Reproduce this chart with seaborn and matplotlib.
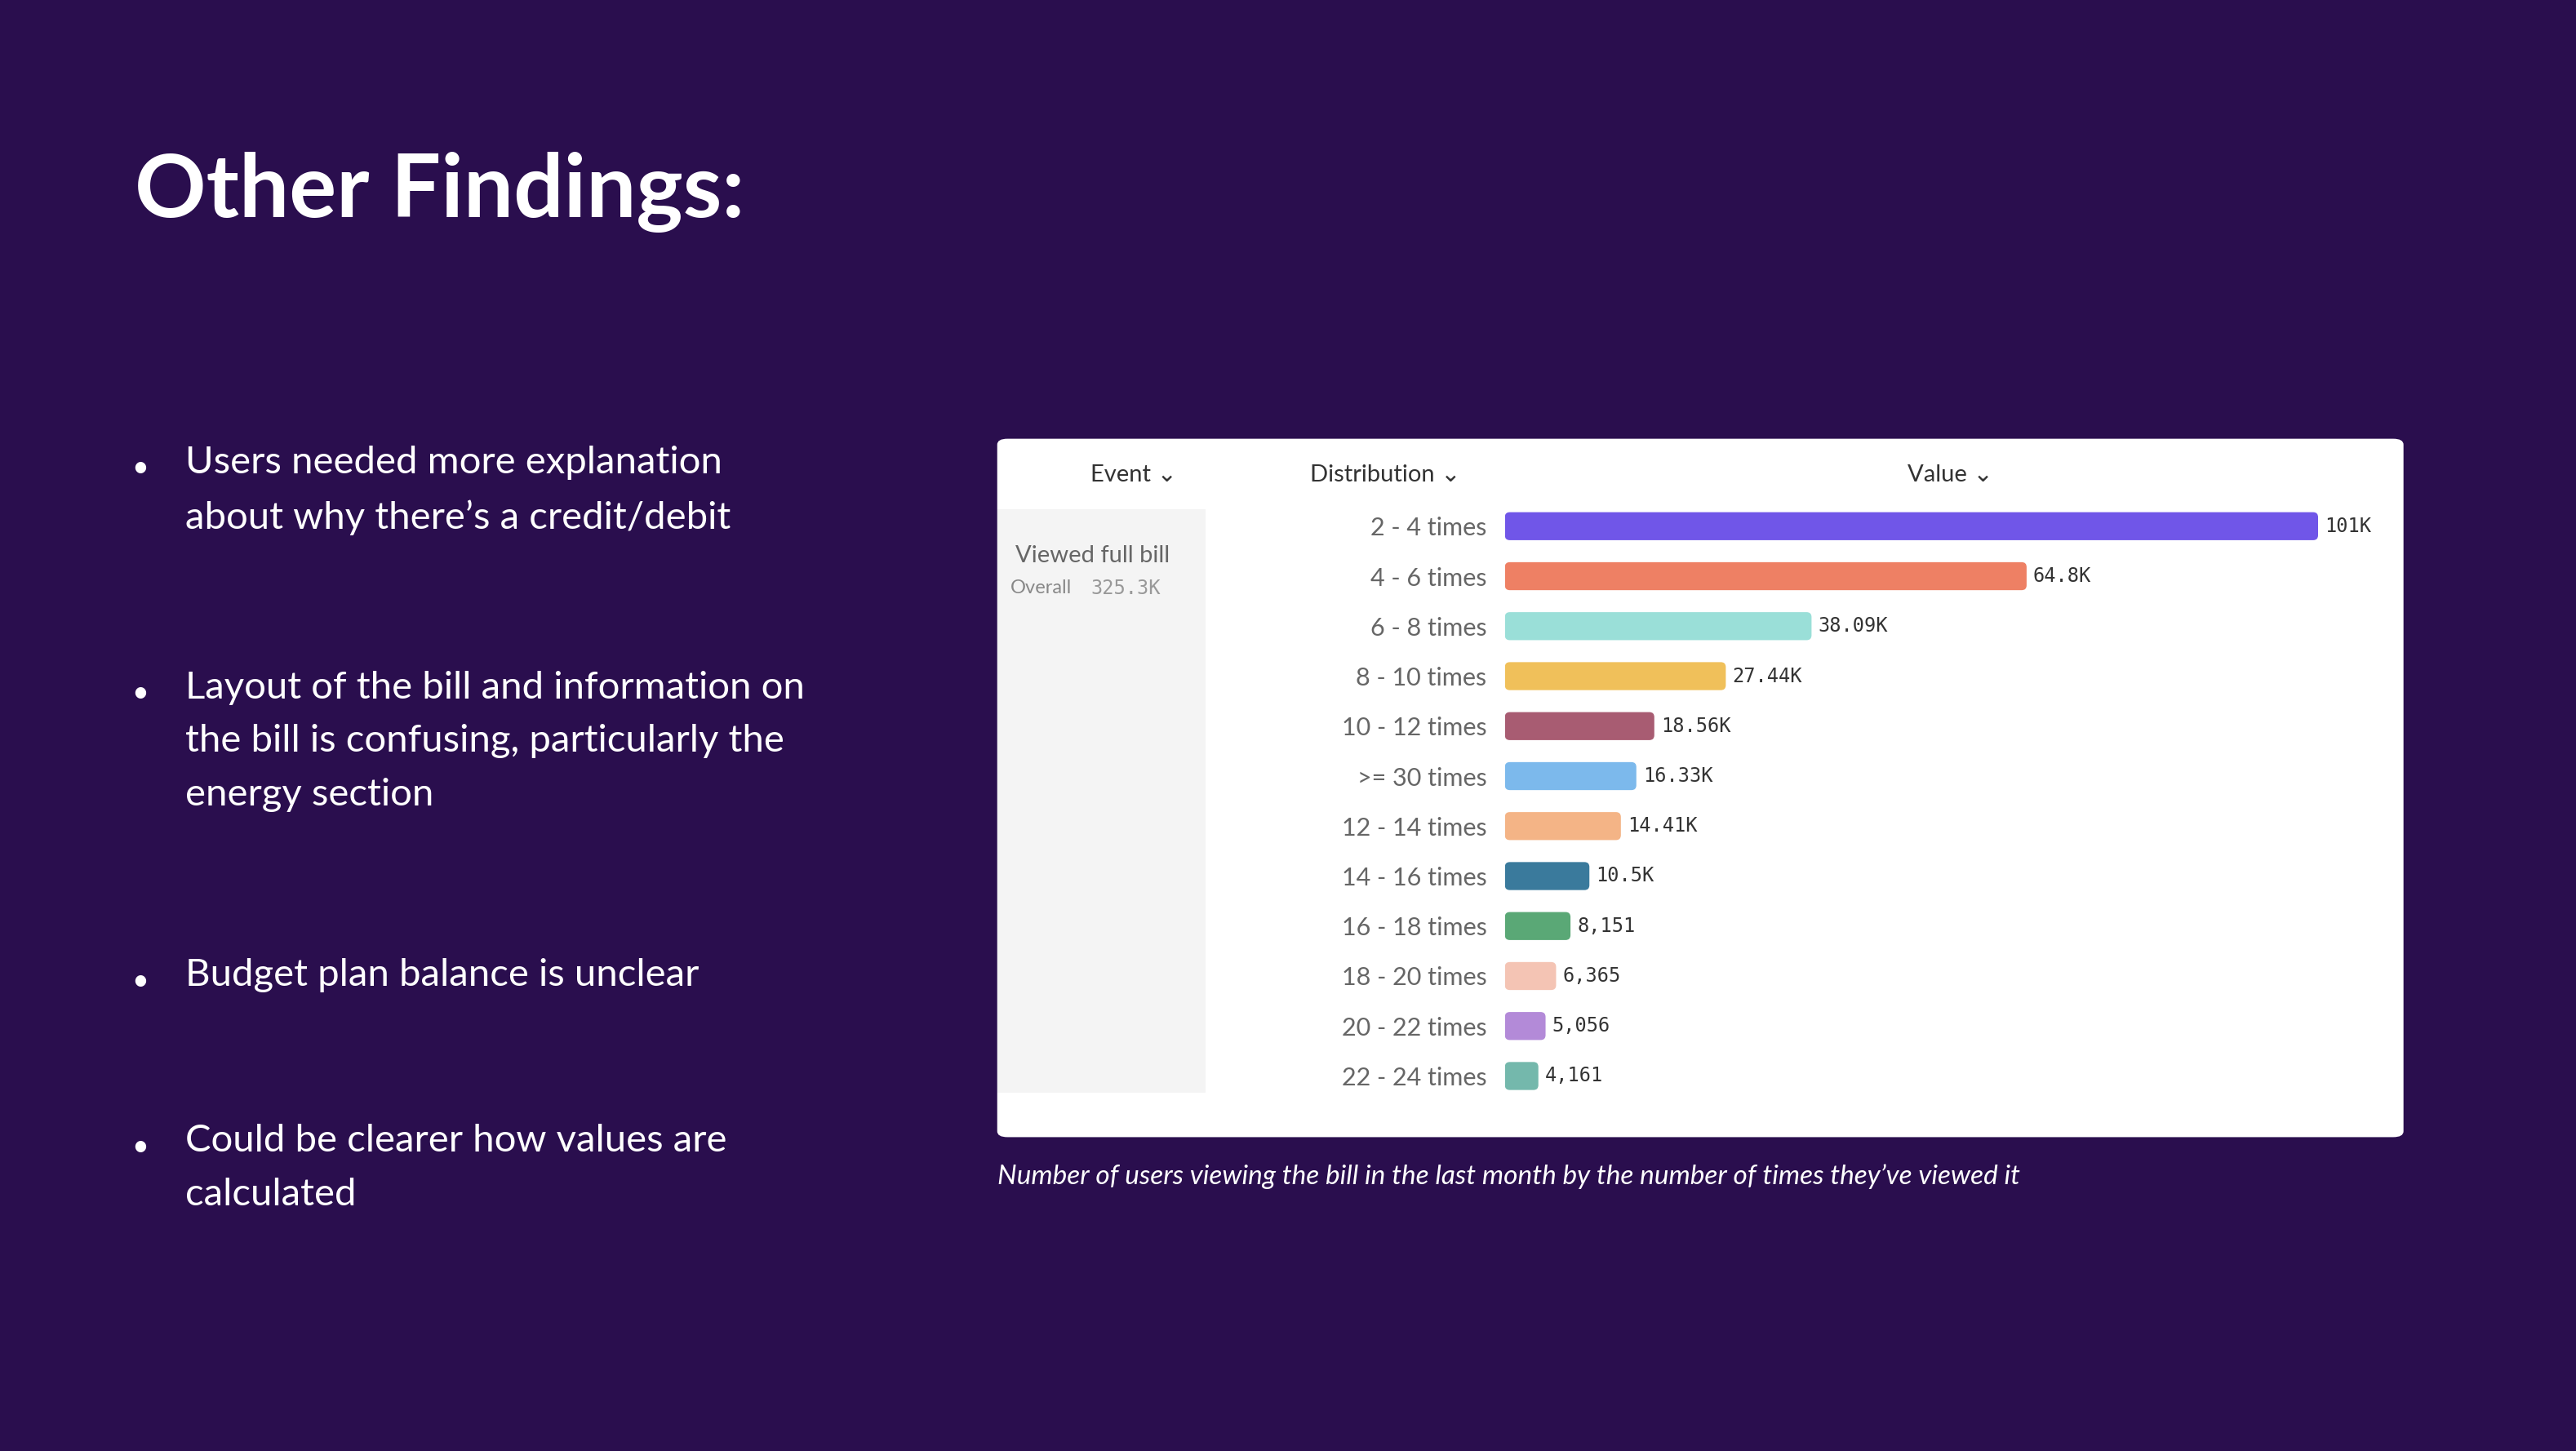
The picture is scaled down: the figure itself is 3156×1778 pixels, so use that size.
import matplotlib.pyplot as plt
import seaborn as sns
import pandas as pd
from matplotlib.patches import FancyBboxPatch, Rectangle

categories = ['2 - 4 times', '4 - 6 times', '6 - 8 times', '8 - 10 times', '10 - 12 times',
              '>= 30 times', '12 - 14 times', '14 - 16 times', '16 - 18 times',
              '18 - 20 times', '20 - 22 times', '22 - 24 times']
values = [101000, 64800, 38090, 27440, 18560, 16330, 14410, 10500, 8151, 6365, 5056, 4161]
value_labels = ['101K', '64.8K', '38.09K', '27.44K', '18.56K', '16.33K', '14.41K', '10.5K',
                '8,151', '6,365', '5,056', '4,161']
colors = ['#7056E8', '#EE8064', '#9ADFD8', '#F0C05A', '#A85C72', '#7CB9EC',
          '#F4B486', '#3A7A9C', '#5AA876', '#F4C4B4', '#B38AD8', '#74B8AC']
bullets = ["Users needed more explanation\nabout why there\u2019s a credit/debit",
           "Layout of the bill and information on\nthe bill is confusing, particularly the\nenergy section",
           "Budget plan balance is unclear",
           "Could be clearer how values are\ncalculated"]
bullet_y = [285, 422, 597, 698]

sns.set_theme(style='white')
plt.rcParams['font.family'] = ['Lato', 'DejaVu Sans']
bg = '#2A0E4E'
fig = plt.figure(figsize=(15.78, 8.89), dpi=200, facecolor=bg)
H, W = 883, 1568

def fy(y):
    return 1 - y / H

def fx(x):
    return x / W

fig.text(fx(82), fy(117), 'Other Findings:', color='white', fontsize=39, fontweight='bold', va='center')
for t, y in zip(bullets, bullet_y):
    fig.text(fx(80), fy(y), '\u2022', color='white', fontsize=13, va='center')
    fig.text(fx(113), fy(y - 14), t, color='white', fontsize=17, va='top', linespacing=1.7)

# white panel
fig.patches.append(FancyBboxPatch((fx(607), fy(692)), fx(1463) - fx(607), fy(267) - fy(692),
                                  boxstyle='round,pad=0,rounding_size=0.004', transform=fig.transFigure,
                                  facecolor='white', edgecolor='none'))
fig.patches.append(Rectangle((fx(607), fy(665)), fx(734) - fx(607), fy(310) - fy(665),
                             transform=fig.transFigure, facecolor='#F4F4F4', edgecolor='none'))
hdr_kw = dict(color='#333333', fontsize=10.5, va='center', ha='center')
fig.text(fx(690), fy(289), 'Event \u2304', **hdr_kw)
fig.text(fx(843), fy(289), 'Distribution \u2304', **hdr_kw)
fig.text(fx(1187), fy(289), 'Value \u2304', **hdr_kw)
fig.text(fx(618), fy(338), 'Viewed full bill', color='#666666', fontsize=10.5, va='center')
fig.text(fx(615), fy(358), 'Overall', color='#888888', fontsize=8.5, va='center')
fig.text(fx(664), fy(358), '325.3K', color='#999999', fontsize=8.5, va='center', family='DejaVu Sans Mono')
fig.text(fx(607), fy(716), "Number of users viewing the bill in the last month by the number of times they\u2019ve viewed it",
         color='white', fontsize=12, style='italic', va='center')

ax = fig.add_axes([fx(916), fy(670), fx(1455) - fx(916), fy(305) - fy(670)])
ax.set_zorder(3)
ax.set_facecolor('none')
df = pd.DataFrame({'cat': categories, 'val': values})
sns.barplot(data=df, x='val', y='cat', hue='cat', palette=colors, legend=False, ax=ax, width=0.56)
xmax = 101000 * (1455 - 916) / (1411 - 916)
ax.set_xlim(0, xmax)
ax.set_ylim(11.5, -0.5)
xpp = xmax / 539
ypp = 12 / 365
for p, c in zip(list(ax.patches), colors):
    x, y, w, h = p.get_x(), p.get_y(), p.get_width(), p.get_height()
    p.set_visible(False)
    ax.add_patch(FancyBboxPatch((x, y), w, h, boxstyle=f'round,pad=0,rounding_size={3 * xpp}',
                                mutation_aspect=ypp / xpp, facecolor=c, edgecolor='none'))
for i, (v, lab) in enumerate(zip(values, value_labels)):
    ax.text(v + 4 * xpp, i, lab, va='center', ha='left', fontsize=8.5, color='#333333',
            family='DejaVu Sans Mono')
ax.set_xlabel('')
ax.set_ylabel('')
ax.set_xticks([])
ax.tick_params(axis='y', length=0, pad=8, labelsize=11, labelcolor='#666666')
sns.despine(ax=ax, left=True, bottom=True)

fig.savefig('out.png', facecolor=bg)
